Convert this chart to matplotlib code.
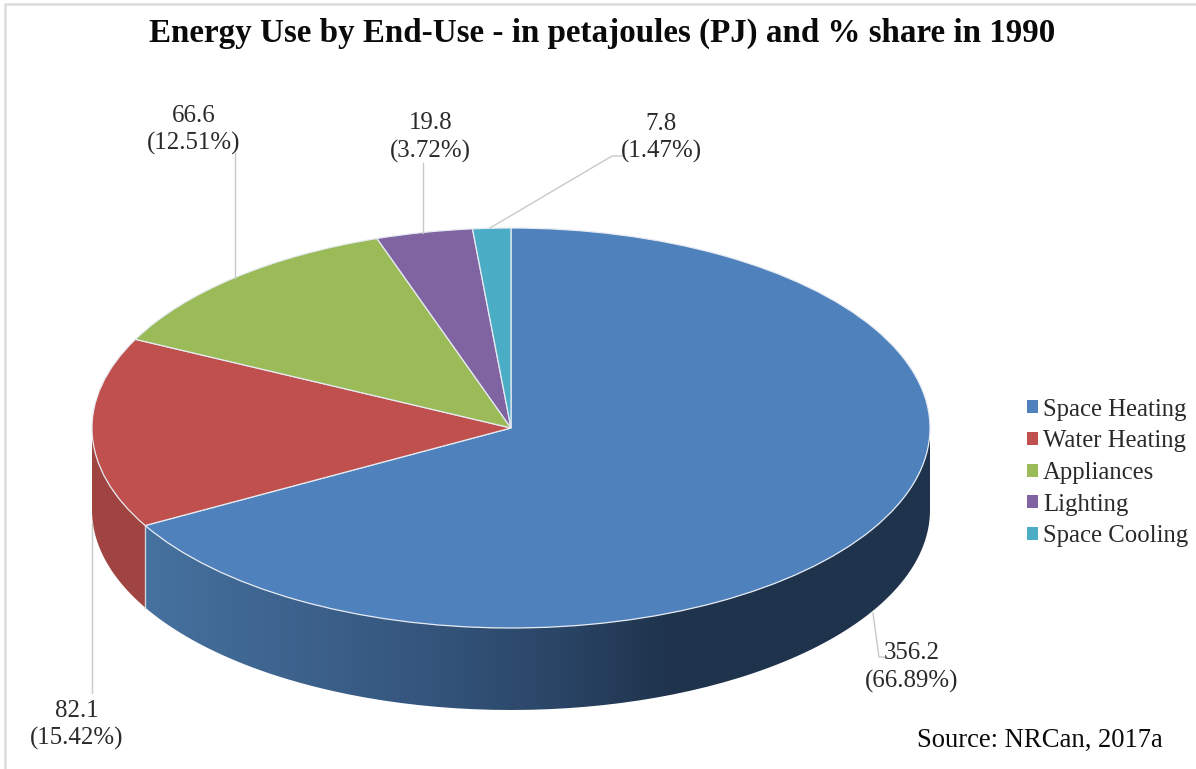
import numpy as np
import matplotlib
matplotlib.use("Agg")
import matplotlib.pyplot as plt
from matplotlib.colors import LinearSegmentedColormap
from matplotlib.patches import Patch, PathPatch
from matplotlib.path import Path

categories = ["Space Heating", "Water Heating", "Appliances", "Lighting", "Space Cooling"]
values_pj = [356.2, 82.1, 66.6, 19.8, 7.8]
shares = ["66.89%", "15.42%", "12.51%", "3.72%", "1.47%"]
colors = ["#4F81BD", "#C0504D", "#9BBB59", "#8064A2", "#4BACC6"]
title = "Energy Use by End-Use - in petajoules (PJ) and % share in 1990"
source = "Source: NRCan, 2017a"

W, H = 1196, 769
CX, CY, RX, RY = 511, 428, 419, 200
DEPTH = 82 / RY
SERIF = "Liberation Serif"
TEXT = "#2a2a2a"
LEADER = "#c9c9c9"

# label centre in pixels, then the leader polyline in pixels
label_pos = [(912, 667.5), (77, 725), (193.5, 130), (430.5, 137.5), (661, 138)]
leaders = [
    [(873, 613), (879, 657), (886, 657)],
    [(92, 523), (92, 693)],
    [(235, 278), (235, 153)],
    [(423, 233), (423, 163)],
    [(490, 228), (612, 156), (622, 156)],
]


def wall_path(start, end):
    # side of the disc between two clockwise angles measured from the top
    t = np.radians(np.linspace(start, end, 120))
    x, y = np.sin(t), np.cos(t)
    xs = np.concatenate([x, x[::-1]])
    ys = np.concatenate([y, y[::-1] - DEPTH])
    return Path(np.column_stack([xs, ys]), closed=False)


fig = plt.figure(figsize=(W / 100, H / 100), dpi=100)

ax = fig.add_axes([0, 0, 1, 1])
wedges, _ = ax.pie(
    values_pj,
    colors=colors,
    startangle=90,
    counterclock=False,
    wedgeprops=dict(edgecolor="#e6ebf2", linewidth=0.9, zorder=3),
)

ends = np.cumsum(values_pj) / np.sum(values_pj) * 360
blue_end = ends[0]

# blue side wall, dark gradient toward the right
stops = [
    (0.0, "#46719F"),
    ((145 - 92) / 838, "#46719F"),
    ((400 - 92) / 838, "#365880"),
    ((560 - 92) / 838, "#2A4566"),
    ((670 - 92) / 838, "#1F334C"),
    (1.0, "#1F334C"),
]
cmap = LinearSegmentedColormap.from_list("wall", stops)
gradient = np.linspace(0, 1, 512)[None, :]
img = ax.imshow(
    gradient, cmap=cmap, aspect="auto", extent=(-1, 1, -1 - DEPTH, 0), zorder=1
)
blue_clip = PathPatch(wall_path(90, blue_end), transform=ax.transData, fc="none", ec="none")
ax.add_patch(blue_clip)
img.set_clip_path(blue_clip)

# red side wall
ax.add_patch(PathPatch(wall_path(blue_end, 270), fc="#A04442", ec="none", zorder=1))
t0 = np.radians(blue_end)
ax.plot(
    [np.sin(t0)] * 2, [np.cos(t0), np.cos(t0) - DEPTH],
    color="#c9d0da", lw=1.0, zorder=2,
)

ax.set_aspect("auto")
ax.set_xlim(-CX / RX, (W - CX) / RX)
ax.set_ylim((CY - H) / RY, CY / RY)
ax.axis("off")

# overlay in pixel units for frame, leaders and text
over = fig.add_axes([0, 0, 1, 1], facecolor="none")
over.set_xlim(0, W)
over.set_ylim(H, 0)
over.axis("off")

# only the top and left of the frame survive in the crop
over.plot([5, 5, W], [H, 3.5, 3.5], color="#dcdcdc", lw=1.8)

for pts in leaders:
    xs, ys = zip(*pts)
    over.plot(xs, ys, color=LEADER, lw=1.0, zorder=2)

for val, share, (x, y) in zip(values_pj, shares, label_pos):
    over.text(
        x, y, f"{val}\n({share})", ha="center", va="center", family=SERIF,
        fontsize=17.9, color=TEXT, linespacing=1.3,
    )

over.text(602.5, 33, title, ha="center", va="center", family=SERIF,
          fontsize=23.8, fontweight="bold", color="#0a0a0a")
over.text(917, 740, source, ha="left", va="center", family=SERIF,
          fontsize=19.2, color="#0a0a0a")

handles = [Patch(facecolor=c, edgecolor="none") for c in colors]
over.legend(
    handles, categories,
    loc="center left",
    bbox_to_anchor=(1015 / W, 1 - 473 / H),
    bbox_transform=fig.transFigure,
    frameon=False,
    prop=dict(family=SERIF, size=17.8),
    labelcolor=TEXT,
    handlelength=0.42,
    handleheight=0.42,
    handletextpad=0.22,
    labelspacing=0.39,
    borderpad=0,
)

fig.savefig("out.png", dpi=100)
